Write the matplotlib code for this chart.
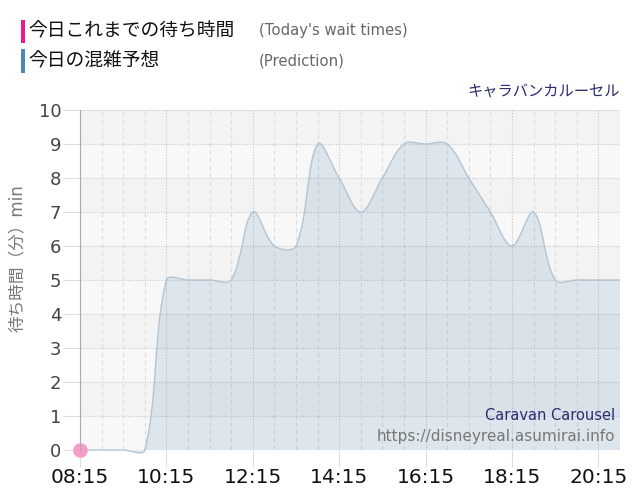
import numpy as np
import matplotlib
matplotlib.use('Agg')
import matplotlib.pyplot as plt
from matplotlib.path import Path
from matplotlib.patches import PathPatch, Rectangle

plt.rcParams['font.family'] = ['DejaVu Sans', 'Noto Sans CJK JP']

# データ (30分刻みの混雑予想)
times = ['08:15', '08:45', '09:15', '09:45', '10:15', '10:45', '11:15', '11:45',
         '12:15', '12:45', '13:15', '13:45', '14:15', '14:45', '15:15', '15:45',
         '16:15', '16:45', '17:15', '17:45', '18:15', '18:45', '19:15', '19:45',
         '20:15', '20:45']
prediction = [0, 0, 0, 0, 5, 5, 5, 5, 7, 6, 6, 9, 8, 7, 8, 9, 9, 9, 8, 7, 6, 7, 5, 5, 5, 5]
today_times = ['08:15']
today_waits = [0]
tick_labels = ['08:15', '10:15', '12:15', '14:15', '16:15', '18:15', '20:15']


def to_hours(t):
    h, m = t.split(':')
    return int(h) + int(m) / 60


def spline_verts(ax, xs, ys, tension=0.35):
    # Chart.js風のベジェ制御点（ピクセル空間で計算）
    pts = ax.transData.transform(np.column_stack([xs, ys]))
    n = len(pts)
    cprev = np.zeros_like(pts)
    cnext = np.zeros_like(pts)
    for i in range(n):
        p0 = pts[max(i - 1, 0)]
        p1 = pts[i]
        p2 = pts[min(i + 1, n - 1)]
        d01 = np.hypot(*(p1 - p0))
        d12 = np.hypot(*(p2 - p1))
        tot = d01 + d12
        s01 = d01 / tot if tot else 0
        s12 = d12 / tot if tot else 0
        cprev[i] = p1 - tension * s01 * (p2 - p0)
        cnext[i] = p1 + tension * s12 * (p2 - p0)
    verts = [pts[0]]
    codes = [Path.MOVETO]
    for i in range(1, n):
        verts += [cnext[i - 1], cprev[i], pts[i]]
        codes += [Path.CURVE4] * 3
    return ax.transData.inverted().transform(np.array(verts)), codes


W, H = 640, 500
fig = plt.figure(figsize=(6.4, 5), dpi=100)
ax = fig.add_axes([80 / W, 1 - 450 / H, 540 / W, 340 / H])
ax.set_facecolor('none')

x = np.array([to_hours(t) for t in times])
y = np.array(prediction, dtype=float)
x0, x1 = to_hours('08:15'), to_hours('20:45')
ax.set_xlim(x0, x1)
ax.set_ylim(0, 10)

# 背景の帯
for k in range(10):
    ax.axhspan(k, k + 1, color='#f8f8f8' if k % 2 == 0 else '#f3f3f3', lw=0, zorder=0)

# グリッド
for k in range(1, 11):
    ax.axhline(k, color='#c6c6c6', lw=0.8, ls=(0, (1, 1.5)), zorder=1)
ax.axhline(0, color='#d0d0d0', lw=0.8, ls=(0, (1, 1.5)), zorder=1)
major = [to_hours(t) for t in tick_labels]
for h in np.arange(x0 + 0.5, x1 + 0.01, 0.5):
    if any(abs(h - m) < 1e-6 for m in major):
        ax.axvline(h, color='#c8c8c8', lw=0.8, ls=(0, (1, 1.5)), zorder=1)
    else:
        ax.axvline(h, color='#dddddd', lw=0.8, ls=(0, (4, 3)), zorder=1)

# 混雑予想
verts, codes = spline_verts(ax, x, y)
fill_verts = np.vstack([verts, [[x[-1], 0], [x[0], 0], [x[0], 0]]])
fill_codes = codes + [Path.LINETO, Path.LINETO, Path.CLOSEPOLY]
ax.add_patch(PathPatch(Path(fill_verts, fill_codes), facecolor=(70 / 255, 130 / 255, 180 / 255, 0.15),
                       edgecolor='none', zorder=2, clip_on=False))
ax.add_patch(PathPatch(Path(verts, codes), facecolor='none', edgecolor='#b3c5d3', lw=1.0, zorder=3,
                       clip_on=False))

# 今日の待ち時間
ax.plot([to_hours(t) for t in today_times], today_waits, 'o', ms=9.5, color='#f59ccb',
        mec='#f59ccb', clip_on=False, zorder=4)

# 軸
for s in ['top', 'right', 'bottom']:
    ax.spines[s].set_visible(False)
ax.spines['left'].set_color('#aaaaaa')
ax.spines['left'].set_zorder(5)
ax.set_yticks(range(11))
ax.set_xticks(major)
ax.set_xticklabels(tick_labels)
ax.tick_params(axis='y', length=12, width=0.8, color='#dddddd', pad=1.5, labelsize=13,
               labelcolor='#444444')
ax.tick_params(axis='x', length=12, width=0.8, color='#dddddd', pad=1, labelsize=14.5,
               labelcolor='#111111')
ax.set_ylabel('待ち時間（分）min', fontsize=12, color='#777777')
ax.yaxis.set_label_coords(-(80 - 26) / 540, (450 - 258) / 340)

# 凡例
fig.add_artist(Rectangle((20.5 / W, 1 - 43 / H), 4.5 / W, 23 / H, transform=fig.transFigure,
                         color='#f0198c', lw=0))
fig.add_artist(Rectangle((20.5 / W, 1 - 73 / H), 4.5 / W, 24 / H, transform=fig.transFigure,
                         color='#4f86b8', lw=0))
fig.text(28 / W, 1 - 31 / H, '今日これまでの待ち時間', fontsize=13.5, color='#111111', va='center')
fig.text(28 / W, 1 - 61 / H, '今日の混雑予想', fontsize=13.5, color='#111111', va='center')
fig.text(259 / W, 1 - 31 / H, "(Today's wait times)", fontsize=10.7, color='#666666', va='center')
fig.text(259 / W, 1 - 61 / H, '(Prediction)', fontsize=10.7, color='#666666', va='center')

fig.text(620 / W, 1 - 91 / H, 'キャラバンカルーセル', fontsize=11, color='#2b2b6e', ha='right', va='center')
fig.text(615 / W, 1 - 415 / H, 'Caravan Carousel', fontsize=10.5, color='#2b2b6e', ha='right', va='center')
fig.text(615 / W, 1 - 437 / H, 'https://disneyreal.asumirai.info', fontsize=11, color='#777777',
         ha='right', va='center')

fig.savefig('out.png', dpi=100)
